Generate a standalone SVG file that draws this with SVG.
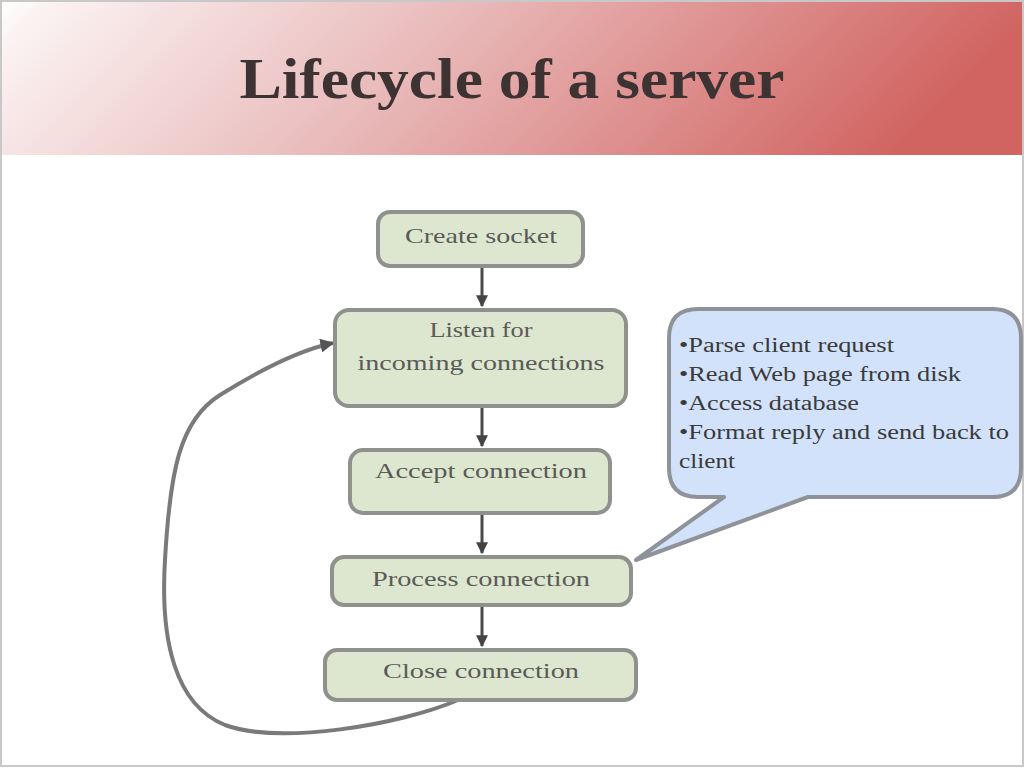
<svg xmlns="http://www.w3.org/2000/svg" width="1024" height="768" viewBox="0 0 1024 768">
<defs>
<linearGradient id="hdr" x1="0" y1="0" x2="1" y2="0.15">
<stop offset="0" stop-color="#ffffff"/>
<stop offset="0.05" stop-color="#fbf2f2"/>
<stop offset="0.45" stop-color="#e9baba"/>
<stop offset="1" stop-color="#d16461"/>
</linearGradient>
<marker id="ah" viewBox="0 0 10 10" refX="9" refY="5" markerWidth="4" markerHeight="4" orient="auto">
<path d="M0,0 L10,5 L0,10 z" fill="#444"/>
</marker>
<marker id="ah2" viewBox="0 0 10 10" refX="9" refY="5" markerWidth="3.5" markerHeight="3.5" orient="auto">
<path d="M0,0 L10,5 L0,10 z" fill="#555"/>
</marker>
<style>
.node rect{fill:#dde7cf;stroke:#8f918c;stroke-width:4}
.node text{font-family:"Liberation Serif",serif;font-size:21px;fill:#5a5a58;text-anchor:middle}
.edge{stroke:#4a4a4a;stroke-width:3;fill:none}
.co{font-family:"Liberation Serif",serif;font-size:20px;fill:#3a3a3a}
</style>
</defs>
<rect x="0" y="0" width="1024" height="768" fill="#ffffff"/>
<rect x="0" y="0" width="1024" height="155" fill="url(#hdr)"/>
<rect x="1" y="1" width="1022" height="765" fill="none" stroke="#c8c8c8" stroke-width="2"/>
<text x="512" y="98" text-anchor="middle" font-family="Liberation Serif,serif" font-weight="bold" font-size="56" fill="#3d3333" textLength="545" lengthAdjust="spacingAndGlyphs">Lifecycle of a server</text>

<g id="connectors">
<line class="edge" x1="482" y1="266" x2="482" y2="306" marker-end="url(#ah)"/>
<line class="edge" x1="482" y1="406" x2="482" y2="446" marker-end="url(#ah)"/>
<line class="edge" x1="482" y1="513" x2="482" y2="553" marker-end="url(#ah)"/>
<line class="edge" x1="482" y1="605" x2="482" y2="646" marker-end="url(#ah)"/>
<path d="M458,700 C400,725 280,745 225,725 C175,705 160,640 165,560 C170,470 180,420 220,395 C260,370 300,350 333,343" stroke="#7a7a7a" stroke-width="4" fill="none" marker-end="url(#ah2)"/>
</g>

<g id="create-socket" class="node">
<rect x="378" y="212" width="205" height="54" rx="12"/>
<text x="481" y="243" textLength="152" lengthAdjust="spacingAndGlyphs">Create socket</text>
</g>
<g id="listen" class="node">
<rect x="335" y="310" width="291" height="96" rx="14"/>
<text x="481" y="337" textLength="103" lengthAdjust="spacingAndGlyphs">Listen for</text>
<text x="481" y="370" textLength="247" lengthAdjust="spacingAndGlyphs">incoming connections</text>
</g>
<g id="accept" class="node">
<rect x="350" y="450" width="260" height="63" rx="13"/>
<text x="481" y="478" textLength="212" lengthAdjust="spacingAndGlyphs">Accept connection</text>
</g>
<g id="process" class="node">
<rect x="332" y="557" width="299" height="48" rx="12"/>
<text x="481" y="586" textLength="218" lengthAdjust="spacingAndGlyphs">Process connection</text>
</g>
<g id="close" class="node">
<rect x="325" y="650" width="311" height="50" rx="12"/>
<text x="481" y="678" textLength="196" lengthAdjust="spacingAndGlyphs">Close connection</text>
</g>

<g id="callout">
<path d="M698,309 L992,309 Q1021,309 1021,338 L1021,468 Q1021,497 992,497 L808,497 L636,560 L724,497 L698,497 Q669,497 669,468 L669,338 Q669,309 698,309 Z" fill="#d2e2fb" stroke="#8f9399" stroke-width="4" stroke-linejoin="round"/>
<text class="co" x="679" y="352" textLength="215" lengthAdjust="spacingAndGlyphs">•Parse client request</text>
<text class="co" x="679" y="381" textLength="282" lengthAdjust="spacingAndGlyphs">•Read Web page from disk</text>
<text class="co" x="679" y="410" textLength="180" lengthAdjust="spacingAndGlyphs">•Access database</text>
<text class="co" x="679" y="439" textLength="330" lengthAdjust="spacingAndGlyphs">•Format reply and send back to</text>
<text class="co" x="679" y="468" textLength="56" lengthAdjust="spacingAndGlyphs">client</text>
</g>
</svg>
